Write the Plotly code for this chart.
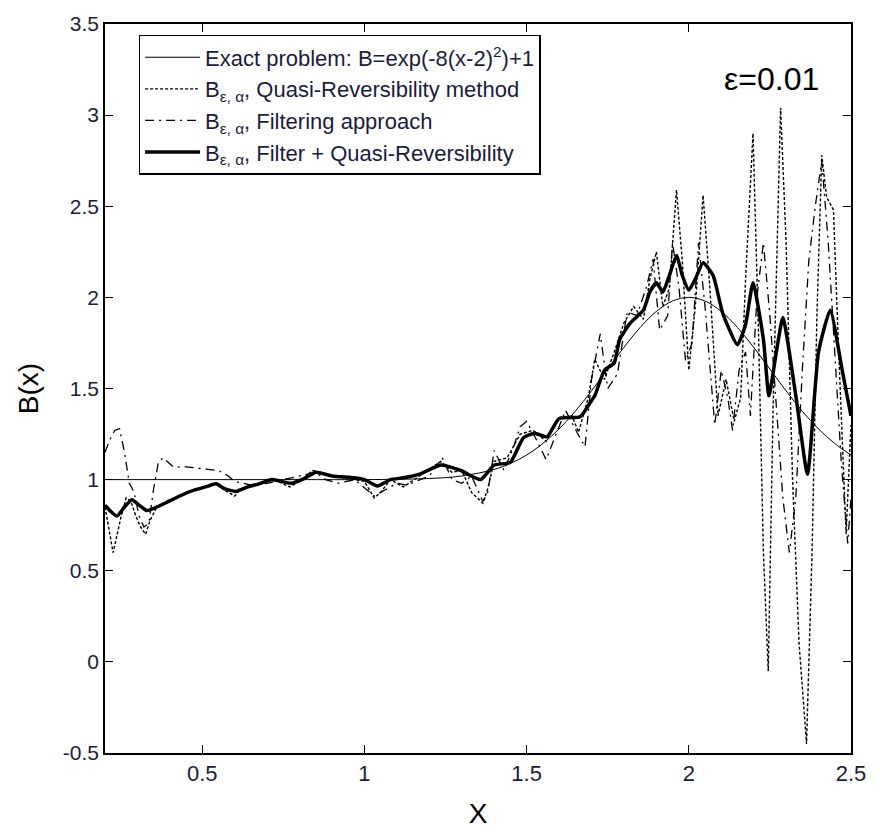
import plotly.graph_objects as go

# ---------------- data ----------------
x_exact = [0.20, 0.40, 0.60, 0.80, 1.00, 1.10, 1.20, 1.30, 1.40, 1.45, 1.50, 1.55, 1.60, 1.65,
           1.70, 1.75, 1.80, 1.85, 1.90, 1.95, 2.00, 2.05, 2.10, 2.15, 2.20, 2.25, 2.30,
           2.35, 2.40, 2.45, 2.50]
y_exact = [1.000, 1.000, 1.000, 1.000, 1.000, 1.002, 1.006, 1.020, 1.056, 1.089, 1.135, 1.198,
           1.278, 1.375, 1.487, 1.607, 1.726, 1.835, 1.923, 1.980, 2.000, 1.980, 1.923,
           1.835, 1.726, 1.607, 1.487, 1.375, 1.278, 1.198, 1.135]

x_qr = [0.20, 0.215, 0.225, 0.235, 0.25, 0.265, 0.28, 0.295, 0.31, 0.325, 0.34, 0.36, 0.40,
        0.47, 0.54, 0.57, 0.60, 0.62, 0.68, 0.72, 0.77, 0.80, 0.84, 0.90, 0.97, 1.00, 1.03,
        1.05, 1.08, 1.12, 1.17, 1.235, 1.27, 1.30, 1.33, 1.365, 1.38, 1.40, 1.44, 1.48, 1.52,
        1.56, 1.60, 1.64, 1.66, 1.69, 1.71, 1.74, 1.77, 1.80, 1.83, 1.86, 1.88, 1.90, 1.92,
        1.94, 1.962, 1.98, 2.00, 2.02, 2.044, 2.065, 2.09, 2.115, 2.14, 2.16, 2.175, 2.198,
        2.215, 2.23, 2.245, 2.26, 2.283, 2.30, 2.32, 2.34, 2.363, 2.38, 2.395, 2.41, 2.425,
        2.446, 2.46, 2.475, 2.485, 2.50]
y_qr = [0.85, 0.70, 0.60, 0.68, 0.80, 0.90, 0.88, 0.80, 0.74, 0.70, 0.78, 0.85, 0.88,
        0.94, 0.98, 0.94, 0.91, 0.95, 0.98, 1.00, 0.96, 0.99, 1.05, 1.02, 1.00, 0.99, 0.90,
        0.93, 1.00, 0.96, 1.02, 1.10, 1.04, 1.05, 0.93, 0.87, 0.95, 1.10, 1.12, 1.25, 1.27,
        1.21, 1.34, 1.35, 1.26, 1.45, 1.66, 1.55, 1.70, 1.86, 1.95, 1.88, 2.10, 2.25, 1.95,
        2.05, 2.59, 2.20, 1.60, 1.95, 2.56, 2.05, 1.35, 1.55, 1.32, 1.45, 2.10, 2.90,
        1.80, 0.60, -0.05, 1.40, 3.04, 2.30, 1.00, 0.10, -0.45, 0.60, 1.90, 2.78, 2.55,
        2.48, 1.80, 1.10, 0.70, 1.30]

x_filt = [0.20, 0.215, 0.23, 0.245, 0.26, 0.275, 0.29, 0.305, 0.32, 0.335, 0.35, 0.365, 0.38,
          0.41, 0.45, 0.50, 0.55, 0.58, 0.60, 0.65, 0.70, 0.75, 0.80, 0.85, 0.88, 0.92, 0.97,
          1.03, 1.07, 1.10, 1.13, 1.17, 1.20, 1.24, 1.27, 1.30, 1.33, 1.365, 1.38, 1.40, 1.43,
          1.46, 1.48, 1.50, 1.53, 1.56, 1.59, 1.62, 1.655, 1.68, 1.70, 1.727, 1.75, 1.78, 1.81,
          1.84, 1.87, 1.89, 1.91, 1.935, 1.95, 1.97, 1.99, 2.01, 2.03, 2.05, 2.08, 2.10, 2.12,
          2.135, 2.155, 2.175, 2.19, 2.21, 2.23, 2.25, 2.27, 2.29, 2.31, 2.33, 2.35, 2.37,
          2.39, 2.41, 2.43, 2.45, 2.47, 2.49, 2.50]
y_filt = [1.15, 1.22, 1.27, 1.28, 1.15, 0.98, 0.93, 0.80, 0.74, 0.76, 0.95, 1.10, 1.12,
          1.07, 1.07, 1.06, 1.05, 1.02, 0.99, 0.97, 0.98, 1.00, 1.02, 1.04, 1.00, 0.98, 1.00,
          0.91, 0.95, 0.98, 0.97, 1.00, 1.02, 1.12, 1.00, 0.98, 1.02, 0.88, 0.93, 1.16, 1.05,
          1.18, 1.29, 1.32, 1.22, 1.11, 1.25, 1.38, 1.26, 1.18, 1.55, 1.80, 1.50, 1.58, 1.92,
          1.90, 2.06, 2.21, 1.82, 1.90, 2.30, 2.05, 1.65, 1.75, 2.30, 1.95, 1.30, 1.60, 1.45,
          1.27, 1.60, 1.70, 1.35, 2.00, 2.30, 1.90, 1.40, 0.90, 0.60, 0.90, 1.60, 2.20,
          2.50, 2.75, 2.30, 1.70, 1.10, 0.65, 0.90]

x_fqr = [0.20, 0.215, 0.237, 0.26, 0.283, 0.305, 0.329, 0.36, 0.39, 0.43, 0.47, 0.51, 0.543,
         0.568, 0.604, 0.64, 0.675, 0.715, 0.773, 0.819, 0.85, 0.90, 0.97, 1.00, 1.04, 1.08,
         1.12, 1.17, 1.235, 1.297, 1.358, 1.40, 1.45, 1.49, 1.525, 1.563, 1.60, 1.665, 1.695,
         1.71, 1.74, 1.77, 1.787, 1.82, 1.86, 1.88, 1.90, 1.92, 1.94, 1.962, 1.98, 2.00, 2.02,
         2.044, 2.075, 2.105, 2.15, 2.175, 2.198, 2.23, 2.247, 2.27, 2.29, 2.33, 2.366, 2.40,
         2.436, 2.473, 2.50]
y_fqr = [0.86, 0.83, 0.80, 0.85, 0.89, 0.86, 0.83, 0.85, 0.875, 0.91, 0.94, 0.96, 0.977,
         0.95, 0.935, 0.96, 0.977, 1.00, 0.98, 1.01, 1.04, 1.02, 1.01, 1.00, 0.965, 1.00,
         1.01, 1.03, 1.08, 1.05, 1.00, 1.08, 1.095, 1.23, 1.255, 1.235, 1.335, 1.345, 1.42,
         1.46, 1.60, 1.64, 1.77, 1.86, 1.93, 2.03, 2.08, 2.03, 2.12, 2.23, 2.12, 2.04, 2.10,
         2.19, 2.12, 1.91, 1.74, 1.85, 2.08, 1.77, 1.46, 1.70, 1.89, 1.46, 1.03, 1.70,
         1.93, 1.60, 1.35]

x_ticks = [0.5, 1, 1.5, 2, 2.5]
y_ticks = [-0.5, 0, 0.5, 1, 1.5, 2, 2.5, 3, 3.5]

names = [
    "Exact problem: B=exp(-8(x-2)<sup>2</sup>)+1",
    "B<sub>ε, α</sub>, Quasi-Reversibility method",
    "B<sub>ε, α</sub>, Filtering approach",
    "B<sub>ε, α</sub>, Filter + Quasi-Reversibility",
]

FONT = "Liberation Sans, Arial, sans-serif"
TXT = "#1c1c3a"

fig = go.Figure()
fig.add_trace(go.Scatter(x=x_exact, y=y_exact, mode="lines", name=names[0],
                         line=dict(color="black", width=1, shape="spline")))
fig.add_trace(go.Scatter(x=x_qr, y=y_qr, mode="lines", name=names[1],
                         line=dict(color="black", width=1.4, dash="3px,2px")))
fig.add_trace(go.Scatter(x=x_filt, y=y_filt, mode="lines", name=names[2],
                         line=dict(color="black", width=1.3, dash="9px,5px,2px,5px")))
fig.add_trace(go.Scatter(x=x_fqr, y=y_fqr, mode="lines", name=names[3],
                         line=dict(color="black", width=3.5, shape="spline", smoothing=0.5)))

fig.add_annotation(x=2.255, y=3.2, xref="x", yref="y", text="ε=0.01", showarrow=False,
                   font=dict(family=FONT, size=32, color="black"))

fig.update_layout(
    width=878, height=836,
    margin=dict(l=105, r=21, t=17, b=74),
    paper_bgcolor="white", plot_bgcolor="white",
    showlegend=True,
    legend=dict(x=0.045, y=0.985, xanchor="left", yanchor="top",
                bgcolor="white", bordercolor="black", borderwidth=1.5,
                font=dict(family=FONT, size=22, color=TXT),
                tracegroupgap=0, itemwidth=55),
    xaxis=dict(range=[0.2, 2.5001], tickvals=x_ticks, ticktext=[str(v) for v in x_ticks],
               ticks="inside", ticklen=8, tickcolor="black", showline=True, linecolor="black",
               linewidth=1.5, mirror="ticks", showgrid=False, zeroline=False,
               tickfont=dict(family=FONT, size=22, color=TXT),
               title=dict(text="X", font=dict(family=FONT, size=28, color="black"), standoff=18)),
    yaxis=dict(range=[-0.5001, 3.5001], tickvals=y_ticks, ticktext=[str(v) for v in y_ticks],
               ticks="inside", ticklen=8, tickcolor="black", showline=True, linecolor="black",
               linewidth=1.5, mirror="ticks", showgrid=False, zeroline=False,
               tickfont=dict(family=FONT, size=21, color=TXT),
               title=dict(text="B(x)", font=dict(family=FONT, size=28, color="black"), standoff=16)),
)

fig.write_html("out.html")
